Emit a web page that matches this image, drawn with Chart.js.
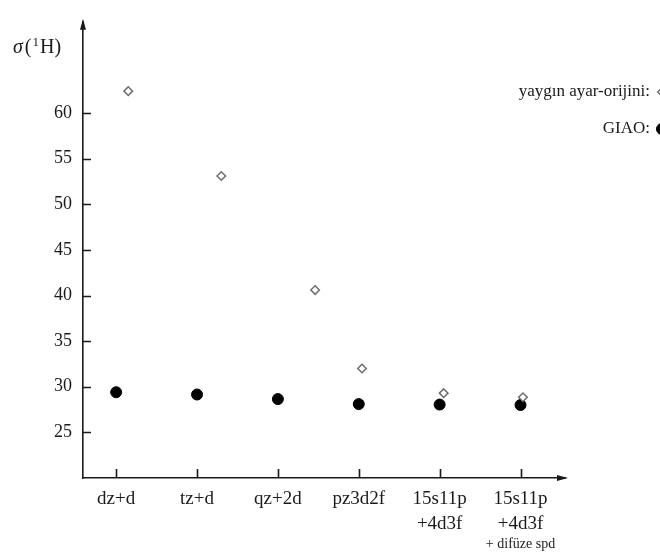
<!DOCTYPE html>
<html>
<head>
<meta charset="utf-8">
<script src="https://cdn.jsdelivr.net/npm/chart.js@4.4.1/dist/chart.umd.min.js"></script>
<style>
  html, body { margin: 0; padding: 0; background: #fff; }
  #wrap { width: 660px; height: 554px; }
</style>
</head>
<body>
<div id="wrap"><canvas id="sigma" width="660" height="554"></canvas></div>
<script>
// basis sets along the x axis
const basisSets = ['dz+d', 'tz+d', 'qz+2d', 'pz3d2f', ['15s11p', '+4d3f'], ['15s11p', '+4d3f']];
const basisNotes = ['', '', '', '', '', '+ difüze spd'];

// shielding values, sigma(1H)
const commonOriginX = [0.15, 1.30, 2.46, 3.04, 4.05, 5.03];
const commonOrigin = [62.4, 53.1, 40.6, 32.0, 29.3, 28.85];
const giao = [29.4, 29.15, 28.65, 28.1, 28.05, 28.0];

const yTicks = [25, 30, 35, 40, 45, 50, 55, 60];

const serif = '"Liberation Serif", "DejaVu Serif", serif';
const ink = '#1a1a1a';

const axisDecor = {
  id: 'axisDecor',
  afterDraw(chart) {
    const {ctx, chartArea: a, scales: {x, y}} = chart;
    ctx.save();
    ctx.strokeStyle = ink;
    ctx.fillStyle = ink;
    ctx.lineWidth = 1.6;

    // inward tick marks
    ctx.beginPath();
    yTicks.forEach(v => {
      const py = Math.round(y.getPixelForValue(v)) + 0.5;
      ctx.moveTo(a.left, py);
      ctx.lineTo(a.left + 8, py);
    });
    basisSets.forEach((_, i) => {
      const px = Math.round(x.getPixelForValue(i)) + 0.5;
      ctx.moveTo(px, a.bottom);
      ctx.lineTo(px, a.bottom - 9);
    });
    ctx.stroke();

    // arrow heads
    ctx.beginPath();
    ctx.moveTo(a.left, a.top - 3);
    ctx.lineTo(a.left - 3, a.top + 8);
    ctx.lineTo(a.left + 3, a.top + 8);
    ctx.closePath();
    ctx.moveTo(a.right + 3, a.bottom);
    ctx.lineTo(a.right - 8, a.bottom - 3);
    ctx.lineTo(a.right - 8, a.bottom + 3);
    ctx.closePath();
    ctx.fill();

    // axis title sigma(1H)
    ctx.textBaseline = 'alphabetic';
    ctx.textAlign = 'left';
    let tx = 13;
    const ty = 53;
    ctx.font = 'italic 20px ' + serif;
    ctx.fillText('σ', tx, ty);
    tx += ctx.measureText('σ').width + 2;
    ctx.font = '20px ' + serif;
    ctx.fillText('(', tx, ty);
    tx += ctx.measureText('(').width + 1;
    ctx.font = '13px ' + serif;
    ctx.fillText('1', tx, ty - 7);
    tx += ctx.measureText('1').width + 1;
    ctx.font = '20px ' + serif;
    ctx.fillText('H)', tx, ty);

    // extra line under the last basis label
    ctx.font = '14px ' + serif;
    ctx.textAlign = 'center';
    ctx.textBaseline = 'middle';
    basisNotes.forEach((n, i) => {
      if (n) ctx.fillText(n, x.getPixelForValue(i), 544);
    });

    // legend in the upper right corner
    ctx.font = '17px ' + serif;
    ctx.textAlign = 'right';
    chart.data.datasets.forEach((ds, i) => {
      const ly = 92 + i * 37;
      ctx.fillStyle = ink;
      ctx.fillText(ds.label + ':', 650, ly);
      ctx.fillStyle = ds.backgroundColor;
      ctx.strokeStyle = ds.borderColor;
      ctx.lineWidth = ds.borderWidth;
      Chart.helpers.drawPoint(ctx, {
        pointStyle: ds.pointStyle,
        radius: ds.pointRadius,
        borderWidth: ds.borderWidth,
        rotation: 0
      }, 662, ly);
    });
    ctx.restore();
  }
};

new Chart(document.getElementById('sigma'), {
  type: 'scatter',
  data: {
    datasets: [
      {
        label: 'yaygın ayar-orijini',
        data: commonOrigin.map((v, i) => ({x: commonOriginX[i], y: v})),
        pointStyle: 'rectRot',
        pointRadius: 4.3,
        borderWidth: 1.5,
        borderColor: '#6e6e6e',
        backgroundColor: '#ffffff'
      },
      {
        label: 'GIAO',
        data: giao.map((v, i) => ({x: i, y: v})),
        pointStyle: 'circle',
        pointRadius: 5.5,
        borderWidth: 1,
        borderColor: '#000000',
        backgroundColor: '#000000'
      }
    ]
  },
  options: {
    responsive: false,
    animation: false,
    layout: { padding: { top: 12, right: 95, left: 0, bottom: 0 } },
    plugins: {
      legend: { display: false },
      tooltip: { enabled: false }
    },
    scales: {
      x: {
        type: 'linear',
        min: -0.41,
        max: 5.55,
        grid: { display: false, drawTicks: false },
        border: { display: true, color: ink, width: 1.6 },
        afterBuildTicks: s => { s.ticks = basisSets.map((_, i) => ({value: i})); },
        afterFit: s => { s.height = 76; },
        ticks: {
          padding: 8,
          color: ink,
          maxRotation: 0,
          autoSkip: false,
          font: { family: serif, size: 19, lineHeight: 1.32 },
          callback: v => basisSets[v]
        }
      },
      y: {
        min: 20,
        max: 70,
        grid: { display: false, drawTicks: false },
        border: { display: true, color: ink, width: 1.6 },
        afterBuildTicks: s => { s.ticks = yTicks.map(v => ({value: v})); },
        afterFit: s => { s.width = 83; },
        ticks: {
          padding: 11,
          color: ink,
          font: { family: serif, size: 18 }
        }
      }
    }
  },
  plugins: [axisDecor]
});
</script>
</body>
</html>
